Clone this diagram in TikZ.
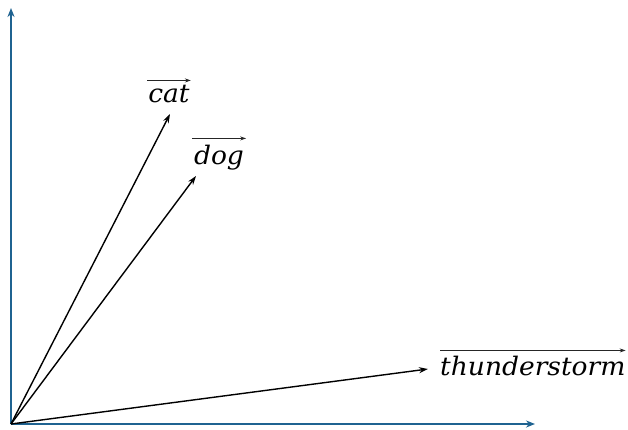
\documentclass[tikz,border=0pt]{standalone}
\usepackage{fontspec}
\setmainfont{DejaVu Serif}
\newfontfamily\lblfont[FakeStretch=1.04]{DejaVu Serif Italic}
\usetikzlibrary{arrows.meta}
\definecolor{axisblue}{HTML}{1F6391}
\tikzset{
  axis/.style={draw=axisblue, line width=1.6pt, -{Stealth[length=9pt,width=7pt]}},
  vec/.style={draw=black, line width=1.4pt, -{Stealth[length=9pt,width=6pt]}},
  lbl/.style={inner sep=0pt, font=\lblfont\fontsize{25.5}{29}\selectfont},
  over/.style={draw=black!85, line width=1.2pt, -{Stealth[length=6pt,width=4pt]}}
}
\begin{document}
\begin{tikzpicture}[x=1pt,y=1pt]
\useasboundingbox (0,0) rectangle (628,429);
\coordinate (O) at (11,5);
\coordinate (yend) at (11,421);
\coordinate (xend) at (535,5);
\coordinate (cat) at (170,315);
\coordinate (dog) at (196,253);
\coordinate (th) at (428,60);
\draw[axis] (O) -- (yend);
\draw[axis] (O) -- (xend);
\draw[vec] (O) -- (cat);
\draw[vec] (O) -- (dog);
\draw[vec] (O) -- (th);
\node[lbl, anchor=base] (catl) at (169,326) {cat};
\node[lbl, anchor=base] (dogl) at (219,265) {dog};
\node[lbl, anchor=base west] (thl) at (440,54) {thunderstorm};
\draw[over] ([xshift=-1pt,yshift=5pt]catl.north west) -- ([xshift=1pt,yshift=5pt]catl.north east);
\draw[over] ([xshift=-2pt,yshift=6pt]dogl.north west) -- ([xshift=2pt,yshift=6pt]dogl.north east);
\draw[over] ([yshift=5pt]thl.north west) -- ([yshift=5pt]thl.north east);
\end{tikzpicture}
\end{document}
